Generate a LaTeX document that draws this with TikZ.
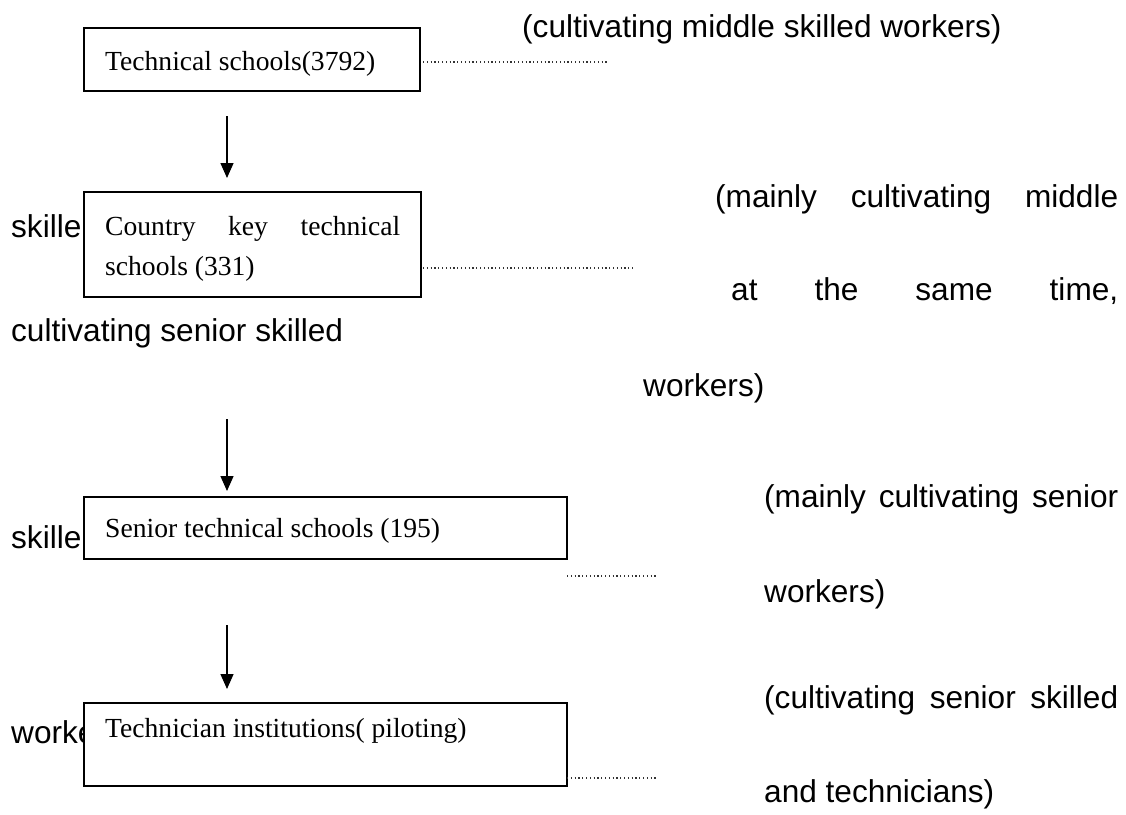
\documentclass[tikz,border=0pt]{standalone}
\usepackage{fontspec}
\setmainfont{Liberation Serif}
\newfontfamily\arialfont{Liberation Sans}
\usetikzlibrary{arrows.meta}
\tikzset{
  boxnode/.style={draw=black, fill=white, line width=1.5pt, inner sep=0pt, anchor=north west},
  boxtext/.style={anchor=base west, inner sep=0pt, font=\fontsize{27.6}{40}\selectfont},
  sidetext/.style={anchor=base west, inner sep=0pt, font=\arialfont\fontsize{31.6}{38}\selectfont},
  dotline/.style={line width=1.1pt, dash pattern=on 1.2pt off 2.6pt, black!80},
  flowarrow/.style={line width=1.3pt, -{Triangle[width=13pt,length=15pt]}}
}
\begin{document}
\begin{tikzpicture}[x=1pt,y=-1pt]
\useasboundingbox (0,0) rectangle (1126,814);
% left side texts (partly hidden behind the boxes)
\node[sidetext] (l1) at (11,237) {skille};
\node[sidetext] (l2) at (11,341) {cultivating senior skilled};
\node[sidetext] (l3) at (11,548) {skille};
\node[sidetext] (l4) at (11,743) {worke};
% boxes
\node[boxnode, minimum width=336pt, minimum height=63pt] (b1) at (83,27) {};
\node[boxnode, minimum width=337pt, minimum height=105pt] (b2) at (83,191) {};
\node[boxnode, minimum width=483pt, minimum height=62pt] (b3) at (83,496) {};
\node[boxnode, minimum width=483pt, minimum height=83pt] (b4) at (83,702) {};
% box texts
\node[boxtext] (t1) at (105,70) {Technical schools(3792)};
\node[boxtext] (t2a) at (105,235) {\makebox[295pt][s]{Country key technical}};
\node[boxtext] (t2b) at (105,275) {schools (331)};
\node[boxtext] (t3) at (105,537) {Senior technical schools (195)};
\node[boxtext] (t4) at (105,737) {Technician institutions( piloting)};
% arrows
\coordinate (a1s) at (227,116); \coordinate (a1e) at (227,178);
\coordinate (a2s) at (227,419); \coordinate (a2e) at (227,491);
\coordinate (a3s) at (227,625); \coordinate (a3e) at (227,689);
\draw[flowarrow] (a1s) -- (a1e);
\draw[flowarrow] (a2s) -- (a2e);
\draw[flowarrow] (a3s) -- (a3e);
% dotted leaders
\coordinate (d1s) at (423,62); \coordinate (d1e) at (609,62);
\coordinate (d2s) at (423,268); \coordinate (d2e) at (633,268);
\coordinate (d3s) at (567,576); \coordinate (d3e) at (658,576);
\coordinate (d4s) at (567,778); \coordinate (d4e) at (658,778);
\draw[dotline] (d1s) -- (d1e);
\draw[dotline] (d2s) -- (d2e);
\draw[dotline] (d3s) -- (d3e);
\draw[dotline] (d4s) -- (d4e);
% right side texts
\node[sidetext] (r1) at (522,37) {(cultivating middle skilled workers)};
\node[sidetext] (r2) at (715,207) {\makebox[403pt][s]{(mainly cultivating middle}};
\node[sidetext] (r3) at (731,300) {\makebox[387pt][s]{at the same time,}};
\node[sidetext] (r4) at (643,396) {workers)};
\node[sidetext] (r5) at (764,507) {\makebox[354pt][s]{(mainly cultivating senior}};
\node[sidetext] (r6) at (764,602) {workers)};
\node[sidetext] (r7) at (764,708) {\makebox[354pt][s]{(cultivating senior skilled}};
\node[sidetext] (r8) at (764,802) {and technicians)};
\end{tikzpicture}
\end{document}
